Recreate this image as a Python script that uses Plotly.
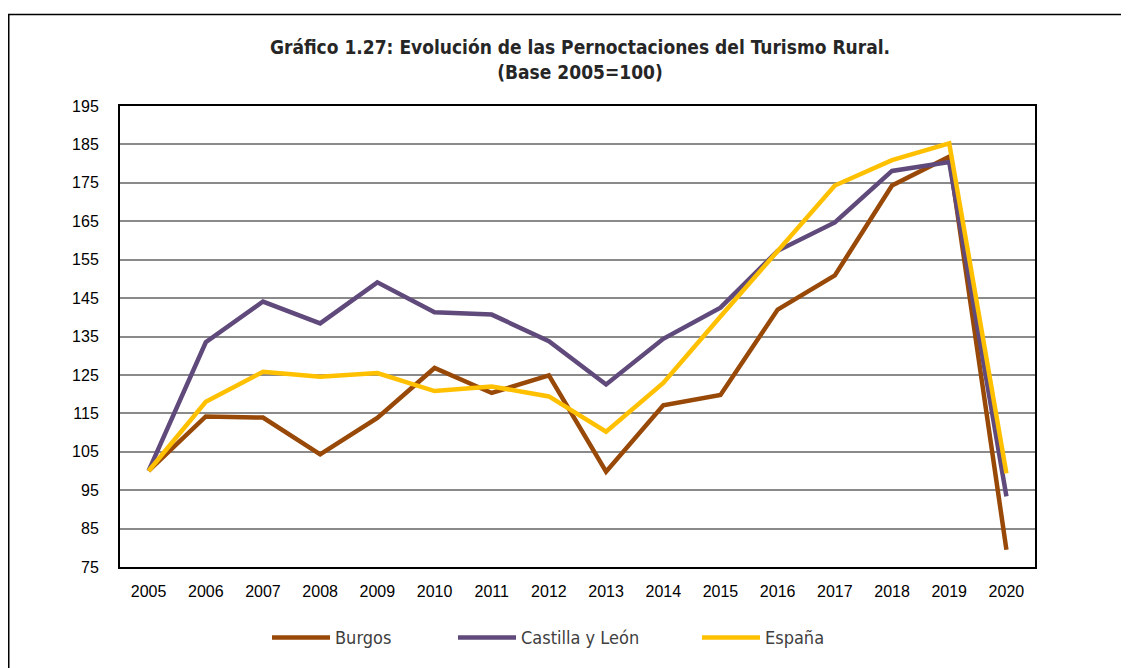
import plotly.graph_objects as go

years = [str(y) for y in range(2005, 2021)]
burgos = [100, 114.2, 113.9, 104.3, 113.8, 126.8, 120.3, 124.9, 99.8, 117.1, 119.8, 142.0, 150.9, 174.3, 181.8, 79.5]
castilla = [100, 133.5, 144.1, 138.4, 149.1, 141.3, 140.7, 133.8, 122.5, 134.4, 142.5, 157.3, 164.7, 178.1, 180.4, 93.4]
espana = [100, 118.0, 125.8, 124.5, 125.5, 120.8, 122.0, 119.4, 110.2, 122.9, 140.2, 157.3, 174.3, 180.9, 185.3, 99.4]
y_ticks = list(range(75, 196, 10))

series = [
    ("Burgos", burgos, "#984807", "legend"),
    ("Castilla y León", castilla, "#604A7B", "legend2"),
    ("España", espana, "#FFC000", "legend3"),
]

fig = go.Figure()
for name, vals, color, lg in series:
    fig.add_trace(go.Scatter(
        x=years, y=vals, name=name, mode="lines",
        line=dict(color=color, width=4.5),
        legend=lg,
    ))

# page body has an 8px margin; work in figure pixels (screen px - 8)
W, H = 1121, 660
L, T = 112, 98
pw, ph = 915, 463
R, B = W - L - pw, H - T - ph

def px_to_paper_x(px):
    return (px - L) / pw

def px_to_paper_y(py):
    return (T + ph - py) / ph

legend_font = dict(family="DejaVu Sans Condensed, DejaVu Sans", size=18, color="#404040")
def leg(xpx):
    return dict(x=px_to_paper_x(xpx), y=px_to_paper_y(632), xanchor="left", yanchor="middle",
                orientation="h", font=legend_font, bgcolor="rgba(0,0,0,0)", itemwidth=58)

tick_font = dict(family="Liberation Sans, Arial", size=16, color="black")

fig.update_layout(
    width=W, height=H,
    margin=dict(l=L, r=R, t=T, b=B),
    paper_bgcolor="white", plot_bgcolor="white",
    title=dict(
        text="<b>Gráfico 1.27: Evolución de las Pernoctaciones del Turismo Rural.<br>(Base 2005=100)</b>",
        x=px_to_paper_x(572), xref="paper", xanchor="center",
        y=1 - 46 / H, yanchor="middle",
        font=dict(family="DejaVu Sans Condensed, DejaVu Sans", size=19, color="#262626"),
    ),
    showlegend=True,
    legend=leg(259),
    legend2=leg(445),
    legend3=leg(689),
    xaxis=dict(
        type="category", range=[-0.5, 15.5], showgrid=False, showline=True, linecolor="black",
        linewidth=2, mirror=True, ticks="", tickfont=tick_font,
        ticklabelstandoff=9, fixedrange=True,
    ),
    yaxis=dict(
        range=[75, 195], tickvals=y_ticks, showgrid=True, gridcolor="#8a8a8a", gridwidth=2,
        showline=True, linecolor="black", linewidth=2, mirror=True, zeroline=False,
        ticks="", tickfont=tick_font,
        ticklabelstandoff=16, fixedrange=True,
    ),
)

# outer chart-area frame (top and left edges visible)
fig.add_shape(type="rect", xref="paper", yref="paper",
              x0=px_to_paper_x(0.75), x1=px_to_paper_x(1140),
              y0=px_to_paper_y(700), y1=px_to_paper_y(6),
              line=dict(color="black", width=1.5), layer="below")

fig.write_html("out.html")
